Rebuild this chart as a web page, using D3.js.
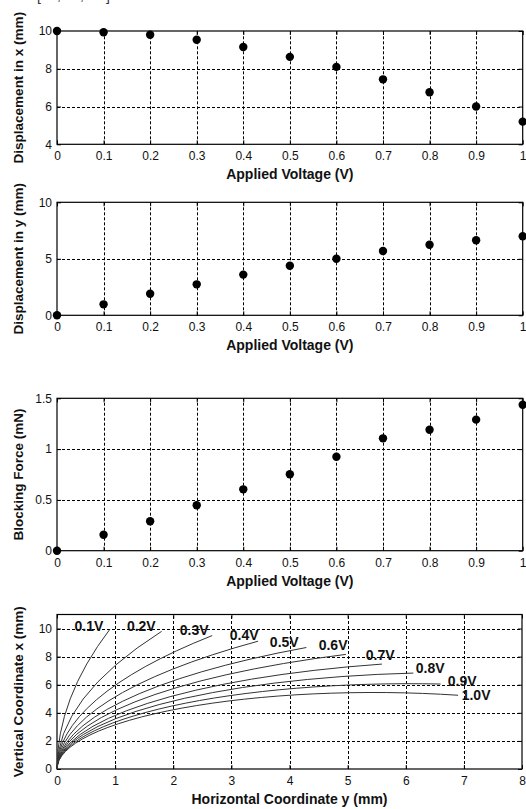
<!DOCTYPE html>
<html>
<head>
<meta charset="utf-8">
<script src="https://cdn.jsdelivr.net/npm/d3@7/dist/d3.min.js"></script>
<style>
    body { margin: 0; background: white; }
</style>
</head>
<body>
<script>
// values
const voltage = [0, 0.1, 0.2, 0.3, 0.4, 0.5, 0.6, 0.7, 0.8, 0.9, 1.0]
const dispX = [10, 9.93, 9.8, 9.54, 9.15, 8.63, 8.1, 7.44, 6.76, 6.0, 5.2]
const dispY = [0, 0.97, 1.91, 2.74, 3.6, 4.39, 5.01, 5.69, 6.25, 6.64, 7.0]
const force = [0, 0.157, 0.29, 0.447, 0.604, 0.752, 0.925, 1.106, 1.19, 1.29, 1.437]

// bent beam shapes: tip position of each curve (horizontal y, vertical x), in mm
const beamLabels = ["0.1V", "0.2V", "0.3V", "0.4V", "0.5V", "0.6V", "0.7V", "0.8V", "0.9V", "1.0V"]
const tipY = [0.91, 1.8, 2.67, 3.46, 4.29, 4.97, 5.59, 6.13, 6.6, 6.9]
const tipX = [9.95, 9.8, 9.5, 9.1, 8.65, 8.16, 7.47, 6.83, 6.05, 5.25]
// where the labels sit, in data units
const labelAtY = [0.55, 1.45, 2.36, 3.22, 3.91, 4.75, 5.56, 6.42, 6.97, 7.21]
const labelAtX = [9.79, 9.86, 9.57, 9.22, 8.72, 8.44, 7.73, 6.81, 5.89, 4.89]

const voltTicks = [0, 0.1, 0.2, 0.3, 0.4, 0.5, 0.6, 0.7, 0.8, 0.9, 1]
const [width, height] = [526, 809]
const [left, right] = [57, 522.7]
const colors = {
    "black": "black",
    "curve": "#333",
    "text": "#111"
}
const tickFont = "Liberation Sans, Arial, sans-serif"

const svg = d3.select("body")
    .append("svg")
        .attr("width", width)
        .attr("height", height)
        .style("background", "white")

// caption above is cut off, only its lower edge shows
const cap = svg.append("g")
    .attr("font-family", tickFont)
    .attr("font-size", 14)
    .attr("fill", "#333")
cap.append("text").attr("x", 37).attr("y", 0.5).text("[")
cap.append("text").attr("x", 57).attr("y", -0.5).text(",")
cap.append("text").attr("x", 80).attr("y", -0.5).text(",")
cap.append("text").attr("x", 106).attr("y", 0.5).text("]")

function panel(o) {
    const x = o.x, y = o.y
    const g = svg.append("g")
    const [x0, x1] = x.range()
    const [y0, y1] = y.range()

    // dashed grid
    g.append("g")
        .attr("stroke", colors.black)
        .attr("stroke-dasharray", "3,2")
        .attr("stroke-width", 1)
        .selectAll()
        .data(o.xTicks.filter(d => x(d) > x0 + 1 && x(d) < x1 - 1))
        .join("line")
            .attr("x1", d => Math.round(x(d)) + 0.5)
            .attr("x2", d => Math.round(x(d)) + 0.5)
            .attr("y1", y0)
            .attr("y2", y1)
    g.append("g")
        .attr("stroke", colors.black)
        .attr("stroke-dasharray", "3,2")
        .attr("stroke-width", 1)
        .selectAll()
        .data(o.yTicks.filter(d => y(d) < y0 - 1 && y(d) > y1 + 1))
        .join("line")
            .attr("x1", x0)
            .attr("x2", x1)
            .attr("y1", d => Math.round(y(d)) + 0.5)
            .attr("y2", d => Math.round(y(d)) + 0.5)

    // box
    g.append("rect")
        .attr("x", x0)
        .attr("y", y1)
        .attr("width", x1 - x0)
        .attr("height", y0 - y1)
        .attr("fill", "none")
        .attr("stroke", colors.black)
        .attr("stroke-width", 1.2)

    g.append("g")
        .attr("transform", `translate(0,${y0})`)
        .call(d3.axisBottom(x).tickValues(o.xTicks).tickFormat(o.xFormat)
            .tickSizeInner(-4).tickSizeOuter(0).tickPadding(7.5))
    g.append("g")
        .attr("transform", `translate(${x0},0)`)
        .call(d3.axisLeft(y).tickValues(o.yTicks).tickFormat(o.yFormat)
            .tickSizeInner(-4).tickSizeOuter(0).tickPadding(5))
    g.append("g")
        .attr("transform", `translate(0,${y1})`)
        .call(d3.axisTop(x).tickValues(o.xTicks).tickFormat("")
            .tickSizeInner(-4).tickSizeOuter(0))
    g.append("g")
        .attr("transform", `translate(${x1},0)`)
        .call(d3.axisRight(y).tickValues(o.yTicks).tickFormat("")
            .tickSizeInner(-4).tickSizeOuter(0))
    g.selectAll(".domain").remove()
    g.selectAll(".tick line").attr("stroke", colors.black)
    g.selectAll(".tick text")
        .attr("font-family", tickFont)
        .attr("font-size", 12)
        .attr("fill", colors.text)

    // axis titles
    g.append("text")
        .attr("x", (x0 + x1) / 2)
        .attr("y", y0 + 35)
        .attr("text-anchor", "middle")
        .attr("font-family", tickFont)
        .attr("font-weight", "bold")
        .attr("font-size", 14)
        .attr("fill", colors.text)
        .text(o.xLabel)
    g.append("text")
        .attr("transform", `translate(23,${(y0 + y1) / 2}) rotate(-90)`)
        .attr("text-anchor", "middle")
        .attr("font-family", tickFont)
        .attr("font-weight", "bold")
        .attr("font-size", 13.5)
        .attr("fill", colors.text)
        .text(o.yLabel)
    return g
}

function dots(g, x, y, values) {
    g.append("g")
        .attr("fill", colors.black)
        .selectAll()
        .data(voltage.map((v, i) => [v, values[i]]))
        .join("circle")
            .attr("cx", d => x(d[0]))
            .attr("cy", d => y(d[1]))
            .attr("r", 4.2)
}

// 1: displacement in x
const xV = d3.scaleLinear().domain([0, 1]).range([left, right])
const y1 = d3.scaleLinear().domain([4, 10]).range([144.3, 31])
const p1 = panel({
    x: xV, y: y1, xTicks: voltTicks, yTicks: [4, 6, 8, 10],
    xFormat: d3.format("~g"), yFormat: d3.format("~g"),
    xLabel: "Applied Voltage (V)", yLabel: "Displacement in x (mm)"
})
dots(p1, xV, y1, dispX)

// 2: displacement in y
const y2 = d3.scaleLinear().domain([0, 10]).range([315.3, 202.3])
const p2 = panel({
    x: xV, y: y2, xTicks: voltTicks, yTicks: [0, 5, 10],
    xFormat: d3.format("~g"), yFormat: d3.format("~g"),
    xLabel: "Applied Voltage (V)", yLabel: "Displacement in y (mm)"
})
dots(p2, xV, y2, dispY)

// 3: blocking force
const y3 = d3.scaleLinear().domain([0, 1.5]).range([550.7, 398.3])
const p3 = panel({
    x: xV, y: y3, xTicks: voltTicks, yTicks: [0, 0.5, 1, 1.5],
    xFormat: d3.format("~g"), yFormat: d3.format("~g"),
    xLabel: "Applied Voltage (V)", yLabel: "Blocking Force (mN)"
})
dots(p3, xV, y3, force)

// 4: beam shapes, each one a circular arc from the clamp at the origin
const xH = d3.scaleLinear().domain([0, 8]).range([left, 522])
const y4 = d3.scaleLinear().domain([0, 11]).range([769, 614.5])
const p4 = panel({
    x: xH, y: y4, xTicks: d3.range(0, 9), yTicks: [0, 2, 4, 6, 8, 10],
    xFormat: d3.format("d"), yFormat: d3.format("d"),
    xLabel: "Horizontal Coordinate y (mm)", yLabel: "Vertical Coordinate x (mm)"
})

function beamPath(ty, tx) {
    const r = (ty * ty + tx * tx) / (2 * ty)
    const rx = xH(r) - xH(0)
    const ry = y4(0) - y4(r)
    return `M${xH(0)},${y4(0)} A${rx},${ry} 0 0 1 ${xH(ty)},${y4(tx)}`
}

p4.append("g")
    .attr("fill", "none")
    .attr("stroke", colors.curve)
    .attr("stroke-width", 1)
    .selectAll()
    .data(d3.range(beamLabels.length))
    .join("path")
        .attr("d", i => beamPath(tipY[i], tipX[i]))

p4.append("g")
    .attr("font-family", tickFont)
    .attr("font-weight", "bold")
    .attr("font-size", 14)
    .attr("fill", colors.text)
    .attr("text-anchor", "middle")
    .selectAll()
    .data(d3.range(beamLabels.length))
    .join("text")
        .attr("x", i => xH(labelAtY[i]))
        .attr("y", i => y4(labelAtX[i]))
        .text(i => beamLabels[i])
</script>
</body>
</html>
